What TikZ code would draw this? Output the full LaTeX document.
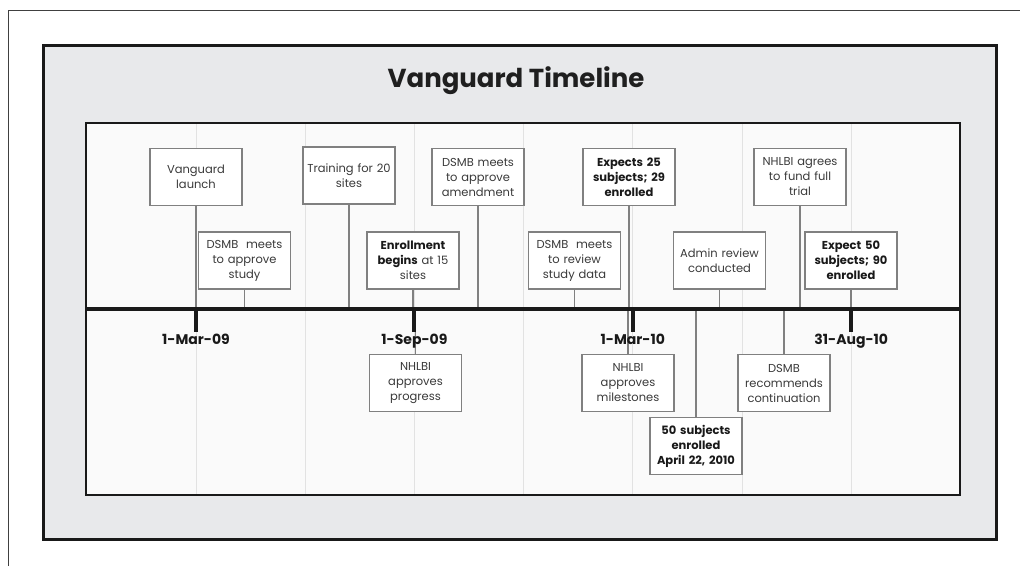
\documentclass[tikz,border=0pt]{standalone}
\usepackage{fontspec}
\setmainfont{Poppins}
\usetikzlibrary{positioning}
\definecolor{panelgrey}{HTML}{E8E9EB}
\definecolor{paper}{HTML}{FAFAFA}
\definecolor{gridgrey}{HTML}{E2E2E2}
\definecolor{boxgrey}{HTML}{808080}
\definecolor{inkgrey}{HTML}{3A3A3A}
\tikzset{
  event/.style={draw=boxgrey, line width=1.4pt, fill=white, text=inkgrey,
    font=\fontsize{11.5}{15}\selectfont, align=center, text width=90pt,
    minimum width=92pt, minimum height=57pt, inner sep=1pt},
  boldevent/.style={event, font=\fontsize{11.5}{15}\selectfont\bfseries, text=black!90},
  link/.style={draw=boxgrey, line width=1.3pt},
  gridline/.style={draw=gridgrey, line width=1pt},
  datetick/.style={draw=black!90, line width=4pt},
  datelabel/.style={font=\fontsize{14}{16}\selectfont\bfseries, text=black!90, inner sep=0pt}
}

\begin{document}
\begin{tikzpicture}[x=1pt, y=-1pt]
		%%%%% START %%%%%
		\useasboundingbox (0,0) rectangle (1020,566);
		
		\draw[line width=1pt, draw=black!75] (8,566) -- (8,10) -- (1020,10);
		
		\draw[line width=3pt, fill=panelgrey, draw=black!90] (43,45) rectangle (996,539);
		\draw[line width=2pt, fill=paper, draw=black!90] (86,123) rectangle (960,495);
		
		\node[font=\fontsize{26}{30}\selectfont\bfseries, text=black!88] (title) at (516,81) {Vanguard Timeline};
		
		% grid
		\foreach \i in {0,...,6}
			\draw[gridline] ({196+109.2*\i},124) -- ({196+109.2*\i},494);
		
		\coordinate (axisL) at (86,309);
		\coordinate (axisR) at (960,309);
		
		% events above the line
		\node[event] (launch) at (196,177) {Vanguard\\launch};
		\node[event] (training) at (349,175.5) {Training for 20\\sites};
		\node[event] (amend) at (478,177) {DSMB meets\\to approve\\amendment};
		\node[boldevent] (expect25) at (629,177) {Expects 25\\subjects; 29\\enrolled};
		\node[event] (fund) at (800,177) {NHLBI agrees\\to fund full\\trial};
		
		\node[event] (approve) at (244.5,260.5) {DSMB\ \ meets\\to approve\\study};
		\node[event] (enroll) at (413,260.5) {\textbf{\color{black!90}Enrollment}\\\textbf{\color{black!90}begins} at 15\\sites};
		\node[event] (review) at (574.5,260.5) {DSMB\ \ meets\\to review\\study data};
		\node[event] (admin) at (719.5,260.5) {Admin review\\conducted};
		\node[boldevent] (expect50) at (851,260.5) {Expect 50\\subjects; 90\\enrolled};
		
		% events below the line
		\node[event] (progress) at (415.5,383) {NHLBI\\approves\\progress};
		\node[event] (miles) at (628,383) {NHLBI\\approves\\milestones};
		\node[event] (contin) at (784,383) {DSMB\\recommends\\continuation};
		\node[boldevent] (fifty) at (696,446) {50 subjects\\enrolled\\April 22, 2010};
		
		\draw[link] (launch.south) -- (launch.south |- axisL);
		\draw[link] (training.south) -- (training.south |- axisL);
		\draw[link] (amend.south) -- (amend.south |- axisL);
		\draw[link] (expect25.south) -- (expect25.south |- axisL);
		\draw[link] (fund.south) -- (fund.south |- axisL);
		\draw[link] (approve.south) -- (approve.south |- axisL);
		\draw[link] (enroll.south) -- (enroll.south |- axisL);
		\draw[link] (review.south) -- (review.south |- axisL);
		\draw[link] (admin.south) -- (admin.south |- axisL);
		\draw[link] (expect50.south) -- (expect50.south |- axisL);
		\draw[link] (progress.north) -- (progress.north |- axisL);
		\draw[link] (miles.north) -- (miles.north |- axisL);
		\draw[link] (contin.north) -- (contin.north |- axisL);
		\draw[link] (fifty.north) -- (fifty.north |- axisL);
		
		\draw[line width=4pt, draw=black!90] (axisL) -- (axisR);
		
		% dates
		\foreach \x/\name/\txt in {196/mar09/1-Mar-09, 414.4/sep09/1-Sep-09, 632.8/mar10/1-Mar-10, 851.2/aug10/31-Aug-10}{
			\coordinate (\name) at (\x,309);
			\draw[datetick] (\name) -- ++(0,23);
			\node[datelabel, below=25pt of \name] (\name lab) {\txt};
		}
		
		%%%%% END %%%%%
\end{tikzpicture}
\end{document}
